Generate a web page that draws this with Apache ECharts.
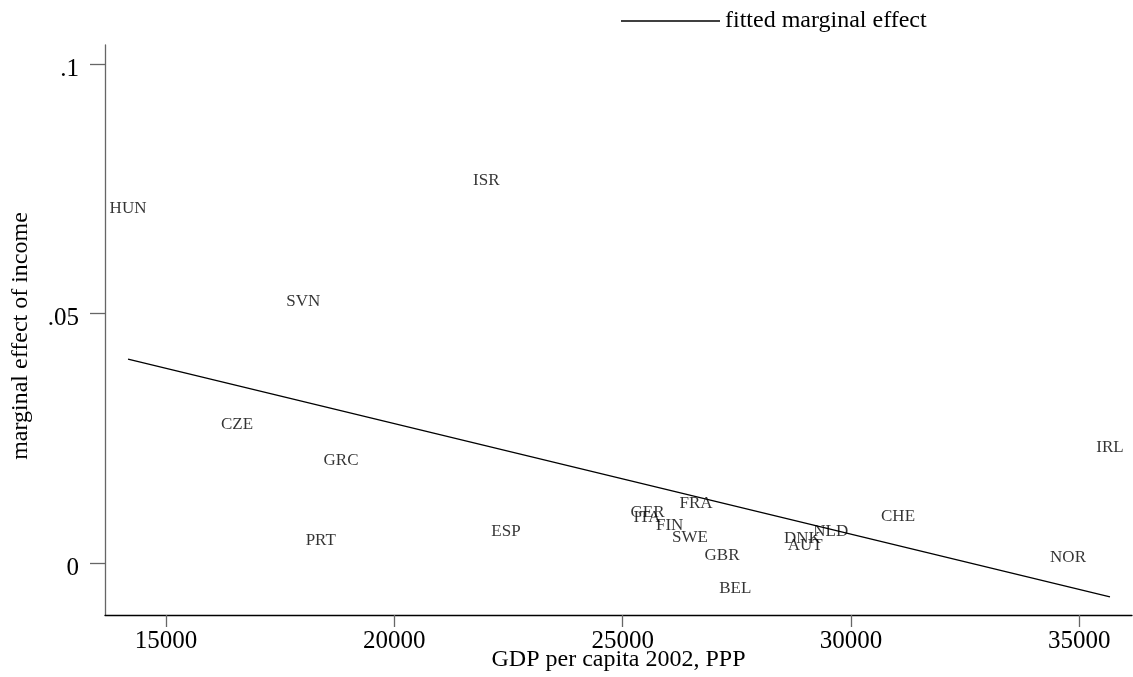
<!DOCTYPE html>
<html>
<head>
<meta charset="utf-8">
<script src="https://cdn.jsdelivr.net/npm/echarts@6/dist/echarts.min.js"></script>
<style>
html,body{margin:0;padding:0;background:#fff;}
#chart{width:1133px;height:677px;}
</style>
</head>
<body>
<div id="chart"></div>
<script>
// Countries (labels drawn at data positions)
var countries = ['HUN','ISR','SVN','CZE','GRC','PRT','ESP','GER','ITA','FIN','FRA','SWE','GBR','BEL','DNK','AUT','NLD','CHE','NOR','IRL'];
var gdp = [14168,22014,18007,16555,18832,18388,22445,25544,25533,26030,26606,26475,27176,27467,28938,28999,29558,31030,34753,35672];
var effect = [0.0710,0.0766,0.0525,0.0277,0.0205,0.0045,0.0063,0.0102,0.0091,0.0075,0.0119,0.0051,0.0015,-0.0051,0.0049,0.0035,0.0063,0.0093,0.0011,0.0232];
// Fitted marginal effect line (end points)
var fitX = [14168, 35672];
var fitY = [0.0409, -0.0067];
// Tick values
var xTicks = [15000,20000,25000,30000,35000];
var yTicks = [0, 0.05, 0.1];
var yTickLabels = ['0', '.05', '.1'];

var FONT = 'Liberation Serif, Times New Roman, serif';
var chart = echarts.init(document.getElementById('chart'));
var scatterData = countries.map(function(c, i){ return {name: c, value: [gdp[i], effect[i]]}; });
var fitData = fitX.map(function(x, i){ return [x, fitY[i]]; });

chart.setOption({
  animation: false,
  backgroundColor: '#fff',
  grid: {left: 105, right: 1, top: 45, bottom: 62, containLabel: false, outerBoundsMode: 'none'},
  legend: {
    data: [{name: 'fitted marginal effect', icon: 'rect'}],
    left: 616, top: 4,
    itemWidth: 99, itemHeight: 1.3,
    textStyle: {fontFamily: FONT, fontSize: 24, color: '#000'}
  },
  xAxis: {
    type: 'value', min: 13664, max: 36154,
    name: 'GDP per capita 2002, PPP', nameLocation: 'middle', nameGap: 33, nameMoveOverlap: false,
    nameTextStyle: {fontFamily: FONT, fontSize: 24, color: '#000'},
    axisLine: {show: true, onZero: false, lineStyle: {color: '#000', width: 1.3}},
    axisTick: {show: true, length: 12, customValues: xTicks, lineStyle: {color: '#666', width: 1.3}},
    axisLabel: {customValues: xTicks, margin: 14, fontFamily: FONT, fontSize: 25, color: '#000',
      formatter: function(v){ return String(v); }},
    splitLine: {show: false}
  },
  yAxis: {
    type: 'value', min: -0.01035, max: 0.1038,
    name: 'marginal effect of income', nameLocation: 'middle', nameGap: 72, nameRotate: 90,
    nameTextStyle: {fontFamily: FONT, fontSize: 24, color: '#000', padding: [0, 12, 0, 0]},
    axisLine: {show: true, onZero: false, lineStyle: {color: '#666', width: 1.3}},
    axisTick: {show: true, length: 15, customValues: yTicks, lineStyle: {color: '#666', width: 1.3}},
    axisLabel: {customValues: yTicks, margin: 26, fontFamily: FONT, fontSize: 25, color: '#000',
      rich: {a: {fontFamily: FONT, fontSize: 25, color: '#000', padding: [10, 0, 0, 0]}},
      formatter: function(v){ var i = yTicks.indexOf(v); return i >= 0 ? '{a|' + yTickLabels[i] + '}' : ''; }},
    splitLine: {show: false}
  },
  series: [
    {
      type: 'scatter', name: 'countries', data: scatterData,
      symbolSize: 1, itemStyle: {color: 'rgba(0,0,0,0)'},
      label: {show: true, position: 'inside', formatter: '{b}', fontFamily: FONT, fontSize: 17, color: '#000'},
      emphasis: {disabled: true}
    },
    {
      type: 'line', name: 'fitted marginal effect', data: fitData,
      showSymbol: false, symbol: 'none',
      lineStyle: {color: '#000', width: 1.3},
      itemStyle: {color: '#000'}
    }
  ]
});
</script>
</body>
</html>
